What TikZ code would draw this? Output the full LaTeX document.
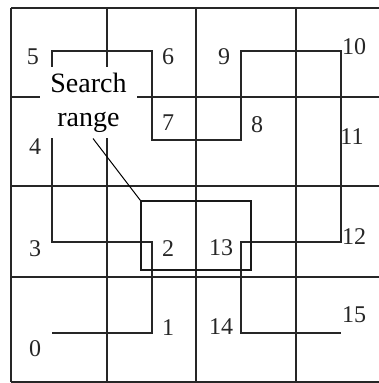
\documentclass[tikz,border=0pt]{standalone}
\usepackage{fontspec}
\setmainfont{Liberation Serif}
\begin{document}
\begin{tikzpicture}[x=1pt,y=-1pt,
  gridline/.style={line width=1.8pt, draw=black!85},
  curve/.style={line width=1.9pt, draw=black!85, line join=miter},
  num/.style={font=\fontsize{24}{24}\selectfont, inner sep=0pt, text=black!85},
  rangebox/.style={line width=1.4pt, draw=black!90},
  labelbox/.style={fill=white, inner sep=0pt, minimum width=97pt, minimum height=71pt,
    align=center, font=\fontsize{28}{35}\selectfont}]
\useasboundingbox (0,0) rectangle (379,383);
% grid
\foreach \x in {11,107,196,296} \draw[gridline] (\x,8) -- (\x,382);
\foreach \y in {8,97,186,277,382} \draw[gridline] (11,\y) -- (379,\y);
% curve points
\coordinate (p0) at (52,333);
\coordinate (p1) at (152,333);
\coordinate (p2) at (152,242);
\coordinate (p3) at (52,242);
\coordinate (p4) at (52,148);
\coordinate (p5) at (52,51);
\coordinate (p6) at (152,51);
\coordinate (p7) at (152,140);
\coordinate (p8) at (241,140);
\coordinate (p9) at (241,51);
\coordinate (p10) at (341,51);
\coordinate (p11) at (341,148);
\coordinate (p12) at (341,242);
\coordinate (p13) at (241,242);
\coordinate (p14) at (241,333);
\coordinate (p15) at (341,333);
\draw[curve] (p0) -- (p1) -- (p2) -- (p3) -- (p4) -- (p5) -- (p6) -- (p7) -- (p8) -- (p9)
  -- (p10) -- (p11) -- (p12) -- (p13) -- (p14) -- (p15);
% labels
\node[num] (n0) at (35,349) {0};
\node[num] (n1) at (168,328) {1};
\node[num] (n2) at (168,249) {2};
\node[num] (n3) at (35,249) {3};
\node[num] (n4) at (35,147) {4};
\node[num] (n5) at (33,57) {5};
\node[num] (n6) at (168,57) {6};
\node[num] (n7) at (168,123) {7};
\node[num] (n8) at (257,125) {8};
\node[num] (n9) at (224,57) {9};
\node[num] (n10) at (354,47) {10};
\node[num] (n11) at (352,137) {11};
\node[num] (n12) at (354,237) {12};
\node[num] (n13) at (221,248) {13};
\node[num] (n14) at (221,327) {14};
\node[num] (n15) at (354,315) {15};
% search range
\node[labelbox] (search) at (88.5,102.5) {Search\\[-1pt]range};
\node[rangebox, minimum width=110pt, minimum height=69pt, inner sep=0pt] (range) at (196,235.5) {};
\coordinate (lead) at (93,138.5);
\draw[line width=1pt] (lead) -- (range.north west);
\end{tikzpicture}
\end{document}
